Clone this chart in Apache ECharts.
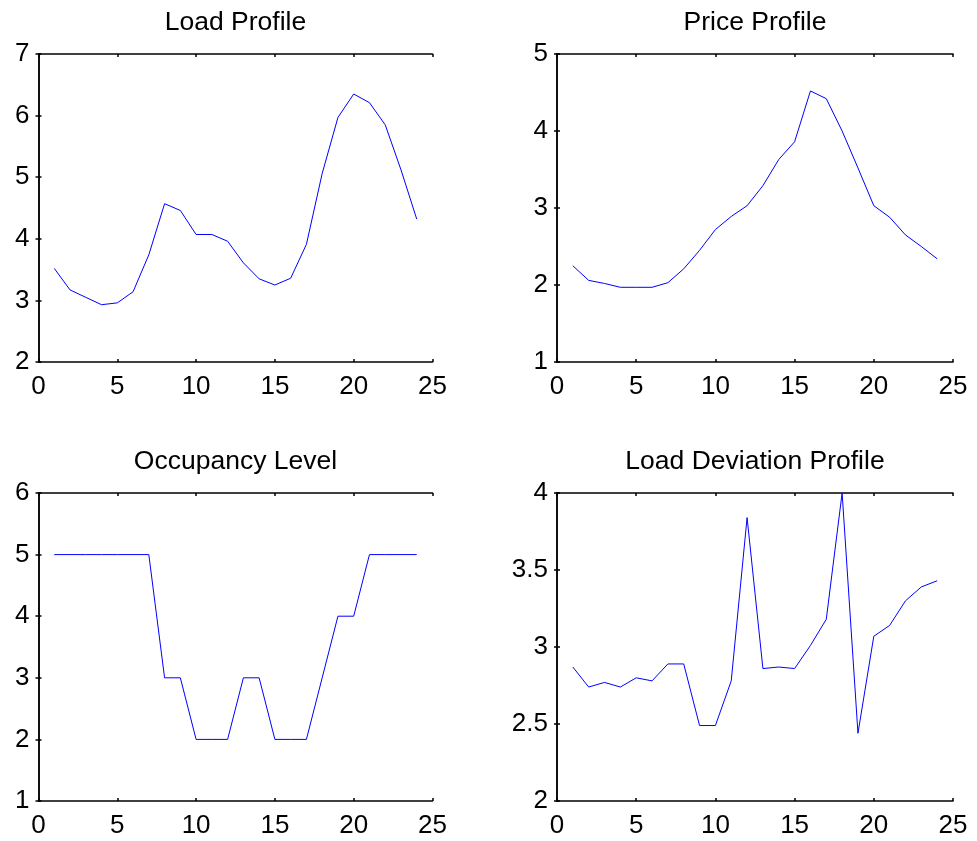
<!DOCTYPE html>
<html>
<head>
<meta charset="utf-8">
<script src="https://cdn.jsdelivr.net/npm/echarts@6/dist/echarts.min.js"></script>
<style>
html,body{margin:0;padding:0;background:#fff;}
#chart{width:977px;height:841px;}
</style>
</head>
<body>
<div id="chart"></div>
<script>
var hours = [1,2,3,4,5,6,7,8,9,10,11,12,13,14,15,16,17,18,19,20,21,22,23,24];
var loadProfile = [3.52,3.17,3.05,2.93,2.96,3.14,3.74,4.57,4.46,4.07,4.07,3.96,3.61,3.35,3.25,3.36,3.91,5.06,5.97,6.35,6.21,5.85,5.12,4.32];
var priceProfile = [2.25,2.06,2.02,1.97,1.97,1.97,2.03,2.21,2.45,2.72,2.89,3.03,3.29,3.63,3.86,4.52,4.42,4.00,3.52,3.03,2.88,2.65,2.50,2.34];
var occupancyLevel = [5,5,5,5,5,5,5,3,3,2,2,2,3,3,2,2,2,3,4,4,5,5,5,5];
var loadDeviation = [2.87,2.74,2.77,2.74,2.80,2.78,2.89,2.89,2.49,2.49,2.78,3.84,2.86,2.87,2.86,3.01,3.18,4.00,2.44,3.07,3.14,3.30,3.39,3.43];
var titles = ['Load Profile','Price Profile','Occupancy Level','Load Deviation Profile'];
var xTicks = {min:0, max:25, interval:5};
var yRanges = [{min:2,max:7,interval:1},{min:1,max:5,interval:1},{min:1,max:6,interval:1},{min:2,max:4,interval:0.5}];
var seriesValues = [loadProfile, priceProfile, occupancyLevel, loadDeviation];

var FONT = 'Liberation Sans, Arial, Helvetica, sans-serif';
var grids = [
  {left:38.5, top:54, width:394, height:308},
  {left:557, top:54, width:396, height:308},
  {left:38.5, top:493, width:394, height:308},
  {left:557, top:493, width:396, height:308}
];
var titleY = [23, 23, 462, 462];

var axisLine = {show:true, lineStyle:{color:'#000', width:1.5}};
var tick = {show:true, inside:true, length:3, lineStyle:{color:'#000', width:1.5}};
var label = {color:'#000', fontSize:26, fontFamily:FONT};

var option = {
  animation:false,
  backgroundColor:'#fff',
  grid: grids.map(function(g){ return {left:g.left, top:g.top, width:g.width, height:g.height, containLabel:false}; }),
  xAxis: [], yAxis: [], series: [], graphic: []
};

for (var i = 0; i < 4; i++) {
  option.xAxis.push({type:'value', gridIndex:i, position:'bottom', min:xTicks.min, max:xTicks.max, interval:xTicks.interval,
    axisLine:axisLine, axisTick:tick, axisLabel:Object.assign({margin:12}, label), splitLine:{show:false}});
  option.xAxis.push({type:'value', gridIndex:i, position:'top', min:xTicks.min, max:xTicks.max, interval:xTicks.interval,
    axisLine:axisLine, axisTick:tick, axisLabel:{show:false}, splitLine:{show:false}});
  var yr = yRanges[i];
  option.yAxis.push({type:'value', gridIndex:i, position:'left', min:yr.min, max:yr.max, interval:yr.interval,
    axisLine:axisLine, axisTick:tick, axisLabel:Object.assign({margin:9, padding:[5,0,0,0]}, label), splitLine:{show:false}});
  option.yAxis.push({type:'value', gridIndex:i, position:'right', min:yr.min, max:yr.max, interval:yr.interval,
    axisLine:axisLine, axisTick:tick, axisLabel:{show:false}, splitLine:{show:false}});
  var vals = seriesValues[i];
  option.series.push({type:'line', xAxisIndex:2*i, yAxisIndex:2*i, symbol:'none', clip:true,
    lineStyle:{color:'#0000ff', width:1}, itemStyle:{color:'#0000ff'},
    data: hours.map(function(h, k){ return [h, vals[k]]; })});
  var g = grids[i];
  option.graphic.push({type:'text', x:g.left + g.width/2, y:titleY[i],
    style:{text:titles[i], fill:'#000', font:'26.5px ' + FONT, textAlign:'center', textVerticalAlign:'middle'}});
}

var chart = echarts.init(document.getElementById('chart'), null, {renderer:'canvas'});
chart.setOption(option);
</script>
</body>
</html>
